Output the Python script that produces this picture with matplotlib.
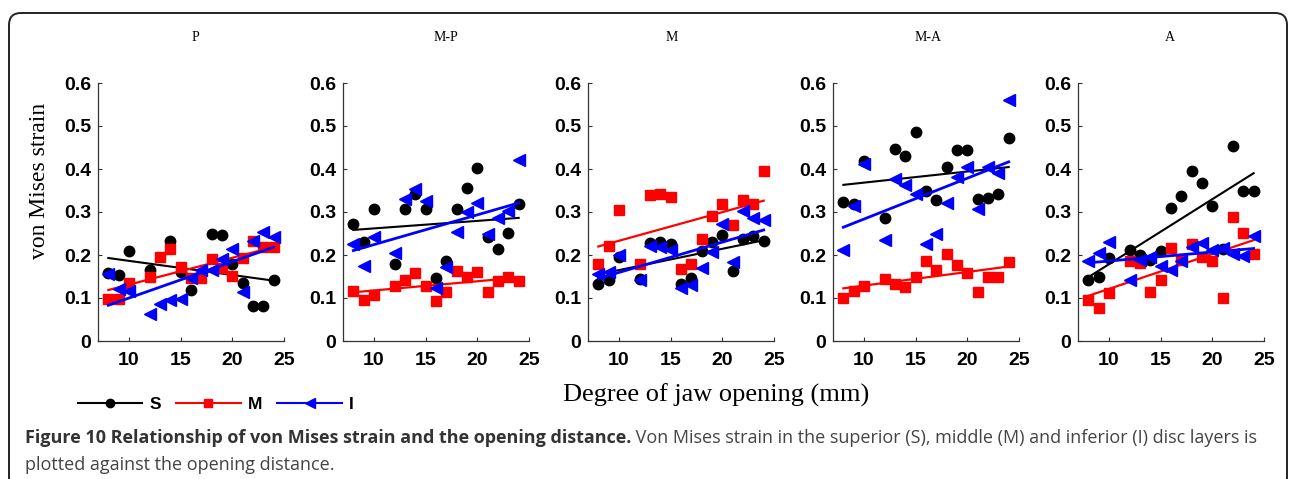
import numpy as np
import matplotlib
matplotlib.use("Agg")
import matplotlib.pyplot as plt
from matplotlib.patches import FancyBboxPatch
from matplotlib.lines import Line2D

nan = np.nan

# jaw opening (mm) for each measurement
opening = [8, 9, 10, 12, 13, 14, 15, 16, 17, 18, 19, 20, 21, 22, 23, 24]
regions = ["P", "M-P", "M", "M-A", "A"]

# superior layer (S)
s_P = [0.157, 0.153, 0.210, 0.165, nan, 0.233, 0.161, 0.118, nan, 0.250, 0.246, 0.179, 0.134, 0.081, 0.081, 0.142]
s_MP = [0.271, 0.230, 0.307, 0.179, 0.307, 0.341, 0.307, 0.146, 0.187, 0.307, 0.356, 0.403, 0.241, 0.215, 0.251, 0.318]
s_M = [0.133, 0.142, 0.195, 0.145, 0.228, 0.230, 0.226, 0.132, 0.146, 0.209, 0.230, 0.246, 0.163, 0.238, 0.244, 0.232]
s_MA = [0.323, 0.318, 0.419, 0.286, 0.446, 0.430, 0.486, 0.349, 0.327, 0.405, 0.444, 0.444, 0.331, 0.333, 0.341, 0.472]
s_A = [0.142, 0.149, 0.193, 0.212, 0.201, 0.189, 0.210, 0.310, 0.337, 0.395, 0.367, 0.314, 0.214, 0.454, 0.349, 0.349]

# middle layer (M)
m_P = [0.097, 0.097, 0.135, 0.149, 0.196, 0.214, 0.173, 0.146, 0.146, 0.191, 0.169, 0.151, 0.194, 0.232, 0.219, 0.219]
m_MP = [0.117, 0.096, 0.107, 0.127, 0.142, 0.158, 0.127, 0.094, 0.115, 0.162, 0.150, 0.160, 0.113, 0.139, 0.150, 0.140]
m_M = [0.180, 0.222, 0.304, 0.180, 0.339, 0.341, 0.335, 0.167, 0.180, 0.237, 0.290, 0.318, 0.269, 0.327, 0.318, 0.395]
m_MA = [0.101, 0.117, 0.127, 0.144, 0.133, 0.125, 0.150, 0.185, 0.164, 0.203, 0.176, 0.158, 0.115, 0.150, 0.150, 0.183]
m_A = [0.096, 0.076, 0.111, 0.185, 0.181, 0.115, 0.141, 0.216, 0.189, 0.226, 0.195, 0.185, 0.100, 0.289, 0.251, 0.202]

# inferior layer (I)
i_P = [0.155, 0.122, 0.116, 0.063, 0.085, 0.095, 0.098, 0.146, 0.166, 0.165, 0.190, 0.213, 0.113, 0.232, 0.253, 0.241]
i_MP = [0.226, 0.175, 0.242, 0.205, 0.331, 0.354, 0.325, 0.123, 0.172, 0.253, 0.300, 0.321, 0.250, 0.286, 0.302, 0.421]
i_M = [0.156, 0.160, 0.200, 0.141, 0.222, 0.218, 0.212, 0.123, 0.131, 0.170, 0.206, 0.271, 0.184, 0.302, 0.286, 0.281]
i_MA = [0.211, 0.315, 0.412, 0.234, 0.376, 0.362, 0.342, 0.226, 0.250, 0.320, 0.381, 0.405, 0.306, 0.405, 0.391, 0.561]
i_A = [0.185, 0.205, 0.230, 0.141, 0.189, 0.195, 0.175, 0.164, 0.185, 0.218, 0.228, 0.211, 0.216, 0.202, 0.198, 0.244]

s_all = [s_P, s_MP, s_M, s_MA, s_A]
m_all = [m_P, m_MP, m_M, m_MA, m_A]
i_all = [i_P, i_MP, i_M, i_MA, i_A]

y_ticks = [0, 0.1, 0.2, 0.3, 0.4, 0.5, 0.6]
y_labels = ["0", "0.1", "0.2", "0.3", "0.4", "0.5", "0.6"]
x_ticks = [10, 15, 20, 25]

# name, colour, marker, marker size, fit line width
series = [("S", "black", "o", 7.5, 1.5), ("M", "red", "s", 7, 1.6), ("I", "blue", "<", 8.5, 2.0)]

W, H = 1295, 479
fig = plt.figure(figsize=(W / 100, H / 100), dpi=100)

# background axes in pixel units for the frame and loose text
bg = fig.add_axes([0, 0, 1, 1])
bg.set_xlim(0, W)
bg.set_ylim(H, 0)
bg.axis("off")
bg.add_patch(FancyBboxPatch((9, 13), 1278, 520, boxstyle="round,pad=0,rounding_size=12",
                            fc="none", ec="#222222", lw=1.4, clip_on=False))

x = np.array(opening, dtype=float)
title_x = [195, 446, 672, 928, 1170]

for k, reg in enumerate(regions):
    left = 98 + 245 * k
    ax = fig.add_axes([left / W, (H - 341) / H, 186 / W, 258 / H])
    for (name, col, mk, ms, lw), data in zip(series, [s_all[k], m_all[k], i_all[k]]):
        y = np.array(data, dtype=float)
        ok = ~np.isnan(y)
        ax.plot(x[ok], y[ok], linestyle="none", marker=mk, ms=ms, color=col, mec=col)
        p = np.polyfit(x[ok], y[ok], 1)
        xf = np.array([x[ok].min(), x[ok].max()])
        ax.plot(xf, np.polyval(p, xf), color=col, lw=lw)
    ax.set_xlim(7, 25)
    ax.set_ylim(0, 0.6)
    ax.set_xticks(x_ticks)
    ax.set_xticklabels([str(t) for t in x_ticks], fontsize=14, fontweight="bold",
                       family="Liberation Sans")
    ax.set_yticks(y_ticks)
    ax.set_yticklabels(y_labels, fontsize=14, fontweight="bold", family="Liberation Sans")
    ax.tick_params(direction="in", length=3, width=0.8, color="#333333")
    ax.tick_params(axis="x", pad=8)
    ax.tick_params(axis="y", pad=5)
    for side in ["top", "right"]:
        ax.spines[side].set_visible(False)
    for side in ["left", "bottom"]:
        ax.spines[side].set_color("#333333")
        ax.spines[side].set_linewidth(0.9)
    ax.patch.set_alpha(0)
    bg.text(title_x[k], 37, reg, ha="center", va="center", fontsize=10,
            family="Liberation Serif")

bg.text(40, 181, "von Mises strain", rotation=90, ha="center", va="center",
        fontsize=17, family="Liberation Serif")
bg.text(716, 395, "Degree of jaw opening (mm)", ha="center", va="center",
        fontsize=19, family="Liberation Serif")

handles = [Line2D([], [], color=c, marker=m, ms=ms * 0.8, lw=1.5, label=n)
           for n, c, m, ms, lw in series]
bg.legend(handles=handles, loc="center left", bbox_to_anchor=(78, 404),
          bbox_transform=bg.transData, ncol=3, frameon=False, borderpad=0,
          borderaxespad=0, handlelength=3.7, handletextpad=0.4, columnspacing=0.9,
          numpoints=1, prop={"family": "Liberation Sans", "weight": "bold", "size": 12.5})

# caption: bold lead followed by normal text
cap_bold = "Figure 10 Relationship of von Mises strain and the opening distance."
cap_rest = " Von Mises strain in the superior (S), middle (M) and inferior (I) disc layers is"
cap_line2 = "plotted against the opening distance."
tb = bg.text(25, 443, cap_bold, fontsize=14, fontweight="bold", family="Open Sans",
             color="#333333", va="baseline")
fig.canvas.draw()
r = fig.canvas.get_renderer()
bx = tb.get_window_extent(r)
tr = bg.text(bx.x1, 443, cap_rest, fontsize=14, family="Open Sans", color="#444444",
             va="baseline")
fig.canvas.draw()
total = tr.get_window_extent(r).x1 - 25
scale = (1268 - 25) / total
tb.set_fontsize(14 * scale)
fig.canvas.draw()
bx = tb.get_window_extent(r)
tr.set_fontsize(14 * scale)
tr.set_x(bx.x1)
bg.text(25, 470, cap_line2, fontsize=14 * scale, family="Open Sans", color="#444444",
        va="baseline")

fig.savefig("out.png", dpi=100)
